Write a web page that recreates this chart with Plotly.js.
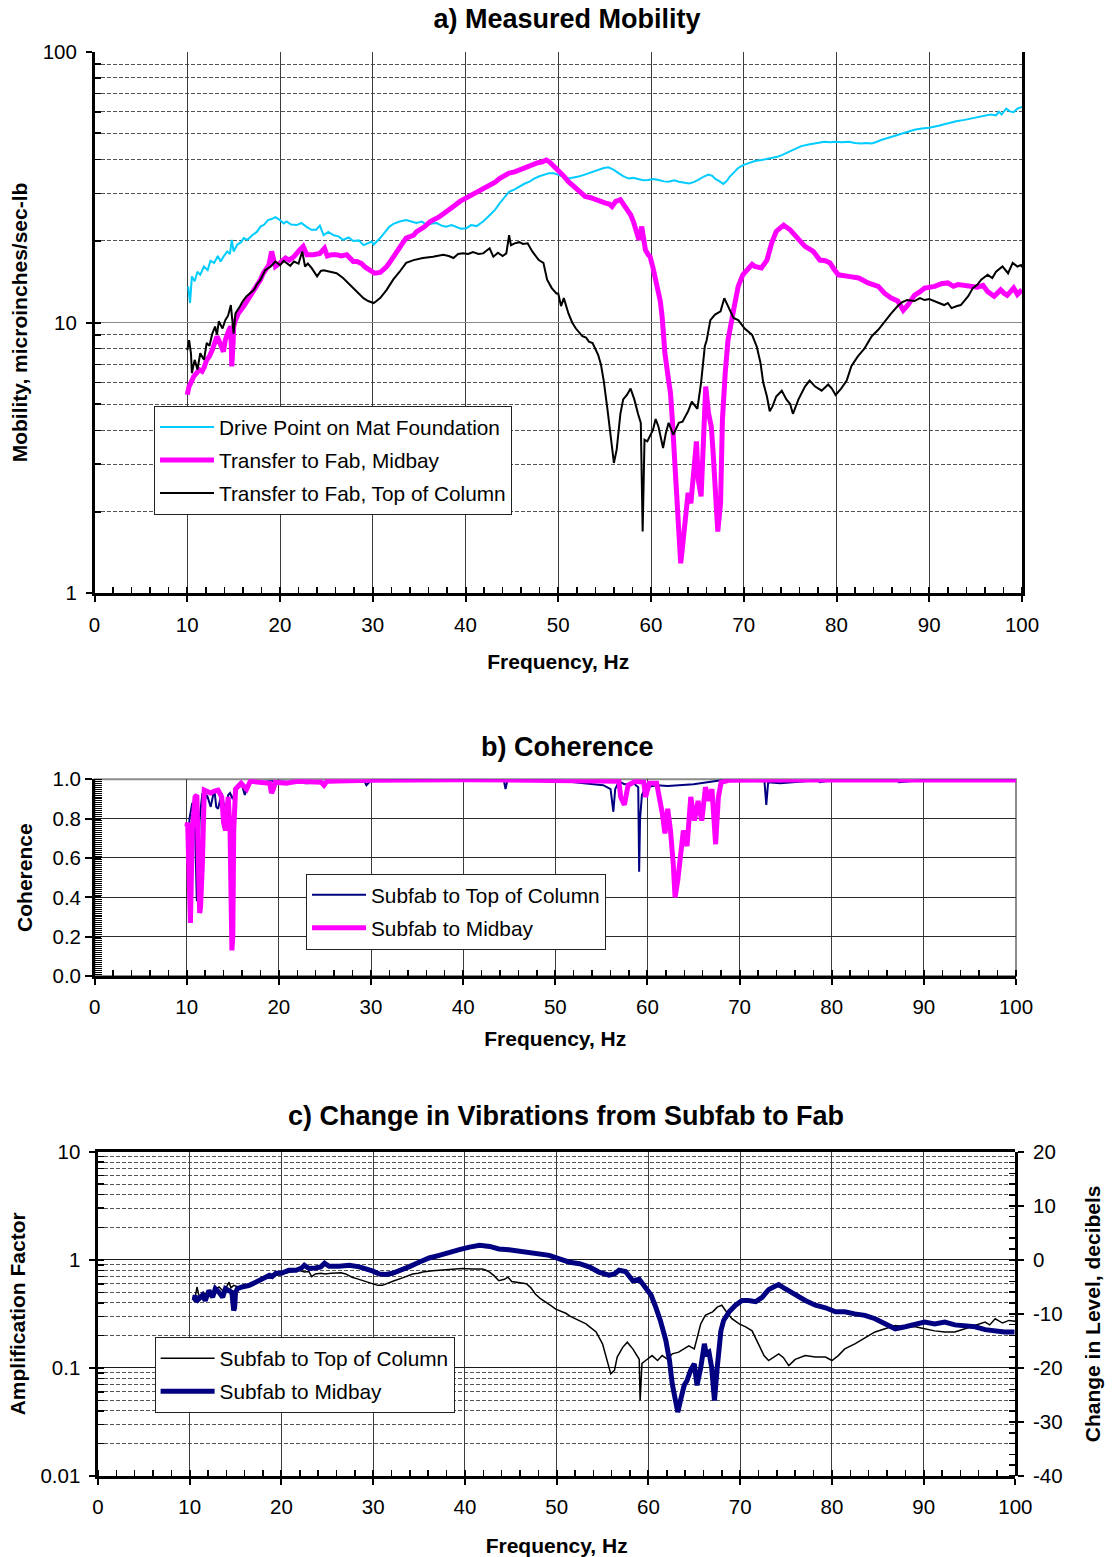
<!DOCTYPE html>
<html>
<head>
<meta charset="utf-8">
<script src="https://cdn.plot.ly/plotly-3.0.1.min.js"></script>
<style>
  html, body { margin: 0; padding: 0; background: #fff; }
  #chart { width: 1112px; height: 1557px; }
</style>
</head>
<body>
<div id="chart"></div>
<script>
// ---------- a) Measured mobility (microinches/sec-lb) ----------
const driveHz = [10.1,10.3,10.5,10.8,11.1,11.4,11.8,12.2,12.5,12.9,
  13.3,13.6,13.9,14.3,14.6,14.8,15.0,15.4,15.8,16.1,
  16.5,17.0,17.5,17.9,18.3,18.7,19.1,19.5,20.0,20.4,
  20.7,21.2,21.8,22.3,22.9,23.4,23.9,24.3,24.7,25.2,
  25.8,26.3,26.8,27.4,27.9,28.5,29.0,29.5,29.9,30.1,
  30.5,30.8,31.3,31.8,32.3,32.9,33.6,34.2,34.7,35.3,
  35.8,36.4,36.9,37.4,37.9,38.5,39.0,39.5,40.1,40.6,
  41.2,41.9,42.6,43.2,43.7,44.2,44.7,45.3,45.8,46.4,
  46.9,47.4,47.9,48.5,49.0,49.5,50.0,50.5,51.1,51.6,
  52.2,52.7,53.3,53.8,54.4,54.9,55.4,56.0,56.5,57.0,
  57.6,58.1,58.7,59.2,59.7,60.3,60.8,61.4,61.9,62.5,
  63.0,63.6,64.1,64.6,65.1,65.7,66.2,66.6,66.9,67.4,
  67.8,68.2,68.5,69.0,69.4,70.0,70.5,71.2,71.9,72.5,
  73.0,73.6,74.1,74.7,75.2,75.7,76.2,77.0,77.7,78.2,
  78.7,79.3,79.9,80.6,81.3,82.0,82.7,83.2,83.8,84.3,
  84.8,85.7,86.6,87.5,88.4,89.2,90.0,91.0,92.0,92.9,
  93.8,94.5,95.3,96.0,96.6,97.2,97.5,97.8,98.3,98.7,
  99.1,99.5,100.0];
const driveMob = [13.6,11.8,14.8,14.2,15.4,15.0,16.1,15.6,16.9,16.6,
  17.6,16.8,17.5,18.3,17.9,20.2,18.3,19.4,19.8,20.5,
  20.2,21.0,21.6,22.6,23.0,23.9,24.1,24.5,23.9,23.2,
  23.6,23.0,22.9,23.3,22.5,22.0,22.0,22.8,21.0,21.6,
  21.0,20.8,20.2,20.6,20.0,20.1,19.3,19.6,19.9,19.4,
  20.0,20.5,21.5,22.6,23.2,23.6,23.9,23.5,23.3,23.6,
  22.9,23.2,23.3,22.8,22.6,22.9,22.5,22.2,22.3,22.9,
  22.7,23.6,24.9,26.1,27.6,29.0,30.4,31.0,31.8,32.6,
  33.1,34.0,34.6,35.2,35.6,35.6,35.2,34.6,34.0,34.2,
  34.6,35.0,35.6,36.2,36.6,37.2,37.4,36.6,35.6,34.7,
  34.0,34.2,33.8,33.5,33.6,33.9,33.6,33.2,33.1,33.5,
  33.1,32.9,32.6,33.0,33.6,34.6,35.2,34.8,34.0,33.2,
  32.5,33.4,34.6,36.0,37.2,38.2,38.8,39.5,39.8,40.1,
  40.4,40.9,41.5,42.5,43.3,44.1,44.8,45.4,45.8,46.2,
  46.5,46.3,46.5,46.3,46.5,46.0,45.8,46.0,45.8,46.4,
  47.2,48.2,49.3,50.4,51.5,52.0,52.4,53.3,54.5,55.4,
  56.0,56.6,57.1,57.8,58.6,58.2,60.0,58.6,61.6,60.2,
  59.8,61.6,62.5];

const midbayHz = [10.0,10.2,10.5,10.7,11.0,11.3,11.6,11.8,12.1,12.4,
  12.7,13.0,13.2,13.4,13.6,13.9,14.1,14.3,14.5,14.7,
  14.8,14.95,15.0,15.2,15.5,16.1,16.8,17.5,17.9,18.2,
  18.5,18.8,19.1,19.3,19.5,20.0,20.6,21.0,21.5,22.1,
  22.5,22.9,23.6,24.3,24.8,25.1,25.6,26.1,26.6,27.2,
  27.6,27.9,28.3,28.8,29.2,29.7,30.2,30.8,31.1,31.5,
  31.8,32.2,32.5,32.9,33.2,33.6,34.0,34.4,34.7,35.1,
  35.6,36.2,36.7,37.2,37.7,38.3,38.8,39.4,39.9,40.4,
  41.0,41.5,42.1,42.6,43.2,43.7,44.2,44.7,45.3,45.8,
  46.4,46.9,47.4,47.8,48.3,48.7,49.0,49.2,49.6,50.0,
  50.5,51.1,51.6,52.2,52.6,52.9,53.5,54.0,54.6,55.1,
  55.5,55.8,56.2,56.7,57.0,57.4,57.8,58.1,58.4,58.7,
  59.0,59.2,59.4,59.7,59.9,60.2,60.5,60.8,61.0,61.2,
  61.5,61.9,62.1,62.3,62.6,62.9,63.2,63.4,63.7,64.0,
  64.3,64.7,64.9,65.1,65.4,65.6,65.9,66.2,66.5,66.7,
  67.0,67.2,67.5,67.7,68.0,68.3,68.9,69.4,69.9,70.5,
  70.9,71.2,71.9,72.5,73.0,73.5,74.3,75.0,75.7,76.2,
  76.6,77.5,78.2,78.8,79.3,79.7,80.2,81.3,82.4,83.4,
  84.5,85.2,85.9,86.6,87.2,87.7,88.4,89.0,89.5,90.6,
  91.3,92.0,92.6,93.1,94.1,95.2,95.8,96.3,97.0,97.7,
  98.1,98.4,99.1,99.5,99.8,100.0];
const midbayMob = [5.41,5.81,6.1,6.33,6.5,6.69,6.6,6.8,7.28,7.5,
  7.93,8.5,8.88,8.6,8.15,7.8,8.6,9.1,9.4,9.66,
  6.88,8.5,9.66,10.2,10.8,11.5,12.5,13.6,14.4,15.2,
  15.8,16.3,18.3,17.0,16.1,16.6,17.3,17.0,17.5,18.5,
  19.1,17.8,17.8,18.0,18.8,17.6,17.8,17.8,17.6,17.8,
  17.3,16.8,16.8,16.5,16.0,15.6,15.2,15.3,15.6,16.1,
  16.6,17.5,18.2,19.1,19.6,20.5,20.7,21.0,21.6,22.0,
  22.6,23.6,24.0,24.6,25.3,26.1,27.0,28.0,28.6,29.2,
  30.0,30.9,31.5,32.2,33.0,34.1,34.8,35.6,36.0,36.6,
  37.2,38.2,38.4,38.9,39.2,39.8,39.3,38.7,37.5,36.6,
  35.0,33.1,32.0,30.9,30.0,29.2,28.9,28.4,28.1,27.6,
  27.4,26.8,28.0,28.4,27.4,26.1,25.0,23.6,22.0,20.2,
  22.6,20.0,18.5,17.8,17.5,16.0,14.4,13.2,12.0,10.5,
  7.7,6.1,5.5,4.37,2.86,1.67,1.29,1.49,1.87,2.35,
  2.15,3.30,3.64,2.62,2.28,3.3,5.8,4.62,4.13,3.3,
  1.98,1.69,2.15,4.37,6.5,8.6,11.1,13.6,15.0,15.9,
  16.4,16.1,15.9,17.0,19.6,21.7,22.9,22.0,20.8,19.8,
  19.1,18.3,17.0,16.9,16.6,15.8,15.0,14.8,14.6,14.0,
  13.6,12.8,12.3,12.0,11.1,11.6,12.6,13.0,13.4,13.6,
  13.9,14.0,13.6,13.8,13.6,13.5,13.7,13.0,12.5,13.2,
  12.8,12.6,13.4,12.7,13.0,13.2];

const columnHz = [10.0,10.2,10.4,10.5,10.8,11.1,11.4,11.8,12.1,12.4,
  12.7,13.0,13.2,13.4,13.8,14.1,14.4,14.7,15.0,15.2,
  15.7,16.0,16.4,16.8,17.2,17.5,17.9,18.4,19.0,19.5,
  20.0,20.4,20.7,21.1,21.5,22.0,22.4,22.7,23.0,23.4,
  24.0,24.4,24.7,25.4,26.1,26.8,27.5,28.3,29.0,29.5,
  30.1,30.4,30.8,31.5,32.2,32.9,33.6,34.4,35.4,36.5,
  37.6,38.2,38.7,39.2,39.7,40.3,40.8,41.4,41.9,42.6,
  43.0,43.5,44.0,44.4,44.7,44.9,45.3,45.8,46.2,46.7,
  47.2,47.9,48.4,48.8,49.3,49.8,50.0,50.3,50.6,51.1,
  51.5,51.9,52.3,52.6,53.0,53.3,53.7,54.0,54.3,54.6,
  54.9,55.3,55.6,56.0,56.3,56.7,57.0,57.4,57.8,58.2,
  58.6,58.9,59.1,59.3,59.6,59.9,60.2,60.5,60.8,61.3,
  61.6,61.9,62.4,63.0,63.4,63.7,64.0,64.4,65.0,65.4,
  65.8,66.0,66.4,66.9,67.5,67.9,68.4,68.9,69.4,70.1,
  70.9,71.4,71.8,72.1,72.5,72.8,73.1,73.5,74.1,74.6,
  75.0,75.3,75.9,76.6,77.1,77.7,78.4,79.1,79.5,79.9,
  80.5,81.1,81.6,82.3,83.0,83.8,84.5,85.2,85.9,86.6,
  87.1,87.6,88.4,89.0,89.5,90.0,90.6,91.1,91.6,92.0,
  92.4,93.0,93.4,94.2,94.7,95.2,95.6,96.3,96.8,97.2,
  97.9,98.5,99.0,99.5,99.9,100.0];
const columnMob = [7.9,8.6,7.7,6.5,7.28,6.7,7.7,7.28,8.4,8.2,
  9.1,9.66,9.0,10.1,9.5,10.2,10.6,11.6,9.1,10.8,
  11.5,12.0,12.5,12.8,13.2,13.8,14.4,15.6,16.1,16.8,
  16.3,16.9,16.6,16.2,16.8,16.5,18.3,16.1,16.5,15.9,
  14.8,15.5,15.6,15.4,15.2,14.6,13.8,13.0,12.3,12.0,
  11.8,12.0,12.3,13.2,14.4,15.4,16.6,17.0,17.3,17.5,
  17.8,17.6,17.3,17.9,18.0,17.9,18.2,17.9,18.0,18.8,
  17.5,18.1,17.6,18.0,21.0,19.3,19.6,19.8,19.5,19.6,
  18.3,17.0,16.6,14.4,13.4,12.8,12.8,11.5,12.3,10.8,
  10.0,9.5,9.2,8.9,8.8,8.5,8.4,8.0,7.6,7.0,
  6.1,4.8,4.0,3.03,3.39,4.6,5.2,5.4,5.7,5.2,
  4.6,4.26,1.69,3.69,3.64,3.8,4.0,4.4,4.13,3.44,
  3.9,4.26,3.85,4.26,4.3,4.5,4.7,5.1,4.8,6.0,
  8.15,8.6,10.2,10.7,11.0,12.3,11.3,10.4,10.2,9.5,
  9.0,8.15,7.1,6.0,5.33,4.7,4.9,5.33,5.6,5.2,
  5.0,4.6,5.2,5.8,6.1,5.8,5.6,5.9,5.7,5.4,
  5.7,6.1,6.9,7.5,8.0,8.9,9.4,10.1,10.8,11.5,
  11.9,12.1,12.0,12.3,12.1,12.2,12.0,11.8,11.6,11.8,
  11.3,11.5,11.6,12.5,13.4,13.8,14.4,15.0,14.6,15.4,
  16.1,15.2,16.6,16.1,16.3,16.0];

// ---------- b) Coherence ----------
const cohColumnHz = [10.0,10.2,10.3,10.6,10.9,11.1,11.3,11.4,11.7,12.0,
  12.2,12.6,13.0,13.2,13.4,13.8,14.0,14.2,14.5,14.7,
  15.0,15.3,16.0,16.3,16.5,17.0,18.0,19.0,20.0,23.0,
  25.0,29.3,29.5,30.0,35.0,40.0,44.4,44.6,44.8,50.0,
  53.6,55.2,56.0,56.3,56.5,56.9,57.5,58.5,59.0,59.1,
  59.2,59.4,59.8,61.0,62.2,63.5,65.0,66.5,68.0,72.7,
  72.9,73.1,74.4,78.5,78.7,80.0,87.1,87.3,90.0,100.0];
const cohColumn = [0.70,0.66,0.80,0.88,0.75,0.38,0.60,0.80,0.93,0.90,
  0.92,0.86,0.95,0.86,0.85,0.93,0.88,0.84,0.92,0.93,
  0.90,0.95,0.97,0.92,0.95,0.99,0.985,0.99,0.99,0.98,
  0.985,0.99,0.97,0.995,0.998,0.997,0.997,0.95,0.995,0.995,
  0.98,0.97,0.95,0.835,0.95,0.99,0.975,0.98,0.96,0.53,
  0.80,0.92,0.96,0.97,0.966,0.97,0.975,0.985,0.995,0.99,
  0.87,0.985,0.98,0.995,0.985,0.995,0.995,0.985,0.997,0.997];

const cohMidbayHz = [10.0,10.1,10.2,10.3,10.4,10.5,10.6,10.8,10.9,11.1,
  11.2,11.3,11.4,11.5,11.7,11.9,12.2,12.6,13.0,13.4,
  13.8,14.0,14.2,14.4,14.5,14.7,14.85,14.9,15.0,15.1,
  15.3,15.9,16.5,16.9,18.4,19.0,19.2,19.4,19.6,20.8,
  22.0,24.6,24.9,25.2,30.0,35.0,40.0,45.0,50.0,55.0,
  56.9,57.1,57.5,57.9,58.7,59.6,59.8,60.2,61.0,61.6,
  61.9,62.2,62.5,62.8,63.0,63.3,63.5,63.9,64.3,64.7,
  65.1,65.5,65.9,66.3,66.7,67.0,67.4,67.7,68.0,68.8,
  75.0,80.0,90.0,100.0];
const cohMidbay = [0.76,0.78,0.60,0.285,0.27,0.50,0.74,0.85,0.91,0.92,
  0.60,0.33,0.32,0.35,0.57,0.945,0.94,0.93,0.94,0.945,
  0.91,0.78,0.74,0.85,0.91,0.74,0.30,0.13,0.20,0.74,
  0.95,0.98,0.95,0.99,0.985,0.98,0.93,0.95,0.985,0.98,
  0.99,0.985,0.97,0.99,0.995,0.998,0.998,0.997,0.996,0.995,
  0.99,0.91,0.87,0.97,0.99,0.985,0.91,0.98,0.98,0.83,
  0.725,0.85,0.74,0.57,0.40,0.49,0.57,0.74,0.66,0.91,
  0.79,0.89,0.79,0.96,0.89,0.95,0.67,0.91,0.985,0.995,
  0.997,0.996,0.997,0.997];

// ---------- c) Amplification factor, subfab to fab ----------
const ampColumnHz = [10.3,10.5,10.7,10.8,11.0,11.2,11.5,11.7,12.1,12.5,
  12.9,13.2,13.6,13.9,14.3,14.5,14.8,15.3,15.7,16.2,
  16.8,17.3,17.9,18.5,19.0,19.5,20.0,20.4,20.8,21.4,
  21.9,22.5,23.0,23.3,23.7,24.3,24.8,25.4,25.9,26.5,
  27.0,27.7,28.2,28.7,29.2,29.6,30.1,30.5,31.0,31.4,
  31.9,32.3,33.2,34.3,34.9,35.4,36.5,37.6,38.7,39.7,
  40.8,41.9,42.3,42.7,43.2,43.7,44.3,44.7,45.1,45.6,
  46.2,46.7,47.2,47.7,48.2,48.8,49.3,49.9,50.4,51.0,
  51.5,52.1,52.5,53.2,53.6,54.3,55.0,55.5,55.9,56.3,
  56.6,57.2,57.7,58.3,58.8,59.0,59.1,59.2,59.3,59.7,
  60.4,61.0,61.5,62.1,62.6,63.3,63.9,64.4,65.0,65.3,
  65.7,66.2,67.0,67.5,68.0,68.4,69.1,69.9,70.6,71.3,
  72.0,72.6,73.1,73.7,74.2,74.7,75.3,76.0,77.1,78.2,
  79.3,80.0,80.7,81.4,82.5,83.6,84.7,85.8,86.9,88.0,
  89.1,90.1,91.2,92.3,93.4,94.5,95.6,96.7,97.2,97.8,
  98.6,99.3,100.0];
const ampColumn = [0.45,0.42,0.50,0.56,0.47,0.45,0.50,0.48,0.52,0.50,
  0.54,0.56,0.52,0.54,0.62,0.55,0.58,0.56,0.57,0.59,
  0.61,0.62,0.65,0.68,0.72,0.72,0.74,0.75,0.77,0.78,
  0.80,0.77,0.78,0.70,0.74,0.75,0.74,0.75,0.75,0.76,
  0.74,0.69,0.67,0.65,0.63,0.62,0.60,0.58,0.58,0.60,
  0.62,0.64,0.68,0.74,0.75,0.77,0.79,0.80,0.81,0.83,
  0.82,0.82,0.80,0.77,0.71,0.64,0.66,0.69,0.63,0.62,
  0.61,0.60,0.55,0.48,0.44,0.41,0.38,0.35,0.335,0.32,
  0.30,0.285,0.275,0.255,0.24,0.215,0.167,0.117,0.088,0.095,
  0.126,0.155,0.173,0.15,0.126,0.12,0.05,0.09,0.11,0.117,
  0.13,0.117,0.13,0.12,0.135,0.14,0.15,0.16,0.15,0.19,
  0.255,0.306,0.33,0.365,0.38,0.34,0.285,0.255,0.24,0.22,
  0.167,0.13,0.117,0.126,0.135,0.125,0.105,0.12,0.13,0.126,
  0.126,0.117,0.13,0.15,0.167,0.19,0.215,0.23,0.247,0.24,
  0.24,0.23,0.22,0.215,0.215,0.23,0.247,0.265,0.25,0.285,
  0.26,0.275,0.27];

const ampMidbayHz = [10.5,10.6,10.7,11.0,11.4,11.7,12.1,12.5,12.8,13.2,
  13.6,13.9,14.3,14.6,14.8,14.9,15.0,15.2,15.7,16.5,
  17.2,17.9,18.7,19.0,19.4,20.0,20.8,21.6,22.2,22.5,
  23.0,23.7,24.3,24.7,25.2,26.3,27.4,28.5,29.2,29.9,
  30.7,31.4,32.1,32.8,33.9,35.0,36.1,37.2,38.3,39.4,
  40.5,41.6,42.7,43.7,44.8,45.9,47.0,48.1,49.2,50.3,
  51.4,52.5,53.6,54.6,55.7,56.3,56.8,57.5,58.3,59.0,
  59.7,60.3,60.8,61.3,61.9,62.3,62.6,63.0,63.2,63.5,
  63.9,64.2,64.6,65.0,65.3,65.7,66.1,66.3,66.6,66.9,
  67.2,67.5,67.9,68.2,68.8,69.5,70.2,70.9,71.7,72.4,
  73.1,73.8,74.2,74.9,76.0,77.1,78.2,79.3,80.4,81.4,
  82.5,83.6,84.7,85.8,86.9,88.0,89.1,90.1,91.2,92.3,
  93.4,94.5,95.6,96.7,97.8,98.8,99.9];
const ampMidbay = [0.42,0.47,0.41,0.44,0.47,0.42,0.52,0.45,0.54,0.50,
  0.45,0.54,0.52,0.50,0.34,0.36,0.50,0.54,0.56,0.58,
  0.62,0.67,0.72,0.70,0.75,0.75,0.80,0.80,0.84,0.89,
  0.83,0.84,0.86,0.93,0.87,0.87,0.89,0.86,0.83,0.79,
  0.74,0.73,0.75,0.80,0.86,0.95,1.04,1.10,1.18,1.24,
  1.31,1.36,1.33,1.26,1.24,1.20,1.18,1.15,1.10,1.02,
  0.95,0.92,0.855,0.77,0.72,0.74,0.80,0.78,0.64,0.66,
  0.54,0.47,0.365,0.275,0.18,0.117,0.071,0.050,0.039,0.05,
  0.069,0.076,0.095,0.109,0.069,0.10,0.167,0.135,0.14,0.10,
  0.050,0.10,0.22,0.275,0.33,0.38,0.42,0.42,0.41,0.45,
  0.53,0.57,0.59,0.54,0.47,0.42,0.38,0.36,0.33,0.33,
  0.316,0.306,0.285,0.255,0.23,0.24,0.255,0.265,0.255,0.265,
  0.25,0.245,0.24,0.226,0.22,0.215,0.215];

// ---------- tick labels ----------
const freqTicks = [0,10,20,30,40,50,60,70,80,90,100];
const mobilityTicks = [1, 10, 100];
const mobilityTickText = ['1', '10', '100'];
const coherenceTicks = [0, 0.2, 0.4, 0.6, 0.8, 1.0];
const coherenceTickText = ['0.0', '0.2', '0.4', '0.6', '0.8', '1.0'];
const ampTicks = [0.01, 0.1, 1, 10];
const ampTickText = ['0.01', '0.1', '1', '10'];
const dbTicks = [-40, -30, -20, -10, 0, 10, 20];
const dbTickText = ['-40', '-30', '-20', '-10', '0', '10', '20'];

// empty series: gives the tick-only axes a subplot without drawing anything
const noValues = [null];

// ---------- page geometry ----------
const W = 1112, H = 1557;
const FONT = 'Liberation Sans, Arial, Helvetica, sans-serif';
const px = v => v / W;          // page x pixel -> paper fraction
const py = v => 1 - v / H;      // page y pixel -> paper fraction

const domA = { x: [px(94.5), px(1022)],  y: [py(593.3), py(51.7)] };
const domB = { x: [px(94.6), px(1016)],  y: [py(976),   py(779.3)] };
const domC = { x: [px(97.9), px(1015.4)], y: [py(1476), py(1151.7)] };

// minor positions on log axes (2..9 within each decade)
function logMinors(decades) {
  const out = [];
  decades.forEach(d => { for (let k = 2; k <= 9; k++) out.push(+(k * d).toPrecision(3)); });
  return out;
}

const tickFont = { family: FONT, size: 20.5, color: '#000' };
const axisTitleFont = { family: FONT, size: 21, color: '#000', weight: 'bold' };
const panelTitleFont = { family: FONT, size: 27, color: '#000', weight: 'bold' };
const legendFont = { family: FONT, size: 20.8, color: '#000' };

function freqAxis(domain, anchor, labelStandoff, titleStandoff) {
  return {
    domain: domain, anchor: anchor, range: [0, 100],
    tickmode: 'array', tickvals: freqTicks,
    ticks: 'outside', ticklen: 6, tickwidth: 2, tickcolor: '#000',
    ticklabelstandoff: labelStandoff,
    showline: true, linewidth: 2.5, linecolor: '#000',
    showgrid: true, gridcolor: '#3c3c3c', gridwidth: 1,
    zeroline: false,
    minor: { tickmode: 'linear', tick0: 0, dtick: 2, ticks: 'inside', ticklen: 6,
             tickwidth: 1.5, tickcolor: '#000', showgrid: false },
    tickfont: tickFont,
    title: { text: 'Frequency, Hz', font: axisTitleFont, standoff: titleStandoff },
    fixedrange: true
  };
}

// bare axis used only to carry tick marks (inner half of the crossing major ticks)
function tickAxis(extra) {
  return Object.assign({
    ticks: 'inside', ticklen: 6, tickwidth: 2, tickcolor: '#000',
    showticklabels: false, showgrid: false, zeroline: false, showline: false,
    fixedrange: true
  }, extra);
}

const layout = {
  width: W, height: H,
  margin: { l: 0, r: 0, t: 0, b: 0, pad: 0 },
  paper_bgcolor: '#fff', plot_bgcolor: 'rgba(0,0,0,0)',
  font: { family: FONT, size: 20, color: '#000' },
  hovermode: false,
  showlegend: true,
  title: {
    text: 'a) Measured Mobility',
    font: panelTitleFont,
    x: px(567), xanchor: 'center', xref: 'paper',
    y: py(19), yanchor: 'middle', yref: 'container'
  },

  // ----- a) mobility -----
  xaxis: freqAxis(domA.x, 'y', 6, 19),
  yaxis: {
    domain: domA.y, anchor: 'x', type: 'log', range: [0, 2],
    tickmode: 'array', tickvals: mobilityTicks, ticktext: mobilityTickText,
    ticks: 'outside', ticklen: 6, tickwidth: 2, tickcolor: '#000',
    ticklabelstandoff: 5,
    showline: true, linewidth: 2.5, linecolor: '#000', mirror: true,
    showgrid: true, gridcolor: '#8a8a8a', gridwidth: 1.5,
    zeroline: false,
    minor: { tickmode: 'array', tickvals: logMinors([1, 10]), ticks: 'inside', ticklen: 6,
             tickwidth: 1.5, tickcolor: '#000',
             showgrid: true, gridcolor: '#555', gridwidth: 1, griddash: '4px,2px' },
    tickfont: tickFont,
    title: { text: 'Mobility, microinches/sec-lb', font: axisTitleFont, standoff: 10 },
    fixedrange: true
  },

  // ----- b) coherence -----
  xaxis2: freqAxis(domB.x, 'y2', 5, 14),
  yaxis2: {
    domain: domB.y, anchor: 'x2', range: [0, 1],
    tickmode: 'array', tickvals: coherenceTicks, ticktext: coherenceTickText,
    ticks: 'outside', ticklen: 7, tickwidth: 2, tickcolor: '#000',
    ticklabelstandoff: 0,
    showline: true, linewidth: 2.5, linecolor: '#000',
    showgrid: true, gridcolor: '#2a2a2a', gridwidth: 1,
    zeroline: false,
    minor: { tickmode: 'linear', tick0: 0, dtick: 0.01, ticks: 'inside', ticklen: 7,
             tickwidth: 1, tickcolor: '#000', showgrid: false },
    tickfont: tickFont,
    title: { text: 'Coherence', font: axisTitleFont, standoff: 14 },
    fixedrange: true
  },

  // ----- c) change in vibrations -----
  xaxis3: Object.assign(freqAxis(domC.x, 'y3', 5, 22), { mirror: true }),
  yaxis3: {
    domain: domC.y, anchor: 'x3', type: 'log', range: [-2, 1],
    tickmode: 'array', tickvals: ampTicks, ticktext: ampTickText,
    ticks: 'outside', ticklen: 6, tickwidth: 2, tickcolor: '#000',
    ticklabelstandoff: 5,
    showline: true, linewidth: 2.5, linecolor: '#000',
    showgrid: true, gridcolor: '#1a1a1a', gridwidth: 1,
    zeroline: false,
    minor: { tickmode: 'array', tickvals: logMinors([0.01, 0.1, 1]), ticks: 'inside', ticklen: 6,
             tickwidth: 1.5, tickcolor: '#000',
             showgrid: true, gridcolor: '#555', gridwidth: 1, griddash: '4px,2px' },
    tickfont: tickFont,
    title: { text: 'Amplification Factor', font: axisTitleFont, standoff: 9 },
    fixedrange: true
  },
  // right-hand decibel scale: -40..20 dB spans the same height as 0.01..10
  xaxis8: tickAxis({ domain: domC.x, anchor: 'y4', range: [0, 100], ticks: '' }),
  yaxis4: {
    domain: domC.y, anchor: 'x8', side: 'right', range: [-40, 20],
    tickmode: 'array', tickvals: dbTicks, ticktext: dbTickText,
    ticks: 'outside', ticklen: 6, tickwidth: 2, tickcolor: '#000',
    ticklabelstandoff: 5,
    showline: true, linewidth: 2.5, linecolor: '#000',
    showgrid: false, zeroline: false,
    minor: { tickmode: 'linear', tick0: 0, dtick: 2, ticks: 'inside', ticklen: 6,
             tickwidth: 1.5, tickcolor: '#000', showgrid: false },
    tickfont: tickFont,
    title: { text: 'Change in Level, decibels', font: axisTitleFont, standoff: 24 },
    fixedrange: true
  },
  yaxis9: tickAxis({ domain: domC.y, anchor: 'x8', side: 'right', range: [-40, 20],
                     tickmode: 'array', tickvals: dbTicks }),

  // inner halves of the crossing major ticks on the other axes
  xaxis5: tickAxis({ domain: domA.x, anchor: 'y5', range: [0, 100], tickmode: 'array', tickvals: freqTicks }),
  yaxis5: tickAxis({ domain: domA.y, anchor: 'x5', type: 'log', range: [0, 2], tickmode: 'array', tickvals: mobilityTicks }),
  xaxis6: tickAxis({ domain: domB.x, anchor: 'y6', range: [0, 100], tickmode: 'array', tickvals: freqTicks }),
  yaxis6: tickAxis({ domain: domB.y, anchor: 'x6', range: [0, 1], tickmode: 'array', tickvals: coherenceTicks }),
  xaxis7: tickAxis({ domain: domC.x, anchor: 'y7', range: [0, 100], tickmode: 'array', tickvals: freqTicks }),
  yaxis7: tickAxis({ domain: domC.y, anchor: 'x7', type: 'log', range: [-2, 1], tickmode: 'array', tickvals: ampTicks }),

  legend: {
    x: px(154), y: py(406), xanchor: 'left', yanchor: 'top',
    bgcolor: '#fff', bordercolor: '#222', borderwidth: 1,
    font: legendFont, itemwidth: 54, traceorder: 'grouped', tracegroupgap: 3
  },
  legend2: {
    x: px(306), y: py(873.7), xanchor: 'left', yanchor: 'top',
    bgcolor: '#fff', bordercolor: '#222', borderwidth: 1,
    font: legendFont, itemwidth: 54, traceorder: 'grouped', tracegroupgap: 3
  },
  legend3: {
    x: px(154.6), y: py(1337.3), xanchor: 'left', yanchor: 'top',
    bgcolor: '#fff', bordercolor: '#222', borderwidth: 1,
    font: legendFont, itemwidth: 54, traceorder: 'grouped', tracegroupgap: 3
  },

  shapes: [
    // grey frame of the coherence plot area
    { type: 'rect', xref: 'x2 domain', yref: 'y2 domain', x0: 0, x1: 1, y0: 0, y1: 1,
      line: { color: '#8c8c8c', width: 2 }, layer: 'below' }
  ],

  annotations: [
    { text: 'b) Coherence', xref: 'paper', yref: 'paper', x: px(567), y: py(747),
      xanchor: 'center', yanchor: 'middle', showarrow: false, font: panelTitleFont },
    { text: 'c) Change in Vibrations from Subfab to Fab', xref: 'paper', yref: 'paper',
      x: px(566), y: py(1116), xanchor: 'center', yanchor: 'middle', showarrow: false,
      font: panelTitleFont }
  ]
};

const traces = [
  { x: driveHz, y: driveMob, xaxis: 'x', yaxis: 'y', mode: 'lines',
    name: 'Drive Point on Mat Foundation', legend: 'legend', legendgroup: 'a1',
    line: { color: '#00CCFF', width: 2 } },
  { x: midbayHz, y: midbayMob, xaxis: 'x', yaxis: 'y', mode: 'lines',
    name: 'Transfer to Fab, Midbay', legend: 'legend', legendgroup: 'a2',
    line: { color: '#FF00FF', width: 5 } },
  { x: columnHz, y: columnMob, xaxis: 'x', yaxis: 'y', mode: 'lines',
    name: 'Transfer to Fab, Top of Column', legend: 'legend', legendgroup: 'a3',
    line: { color: '#000000', width: 2 } },

  { x: cohColumnHz, y: cohColumn, xaxis: 'x2', yaxis: 'y2', mode: 'lines',
    name: 'Subfab to Top of Column', legend: 'legend2', legendgroup: 'b1',
    line: { color: '#000080', width: 2 } },
  { x: cohMidbayHz, y: cohMidbay, xaxis: 'x2', yaxis: 'y2', mode: 'lines',
    name: 'Subfab to Midbay', legend: 'legend2', legendgroup: 'b2',
    line: { color: '#FF00FF', width: 5 } },

  { x: ampColumnHz, y: ampColumn, xaxis: 'x3', yaxis: 'y3', mode: 'lines',
    name: 'Subfab to Top of Column', legend: 'legend3', legendgroup: 'c1',
    line: { color: '#000000', width: 1.5 } },
  { x: ampMidbayHz, y: ampMidbay, xaxis: 'x3', yaxis: 'y3', mode: 'lines',
    name: 'Subfab to Midbay', legend: 'legend3', legendgroup: 'c2',
    line: { color: '#000080', width: 5 } }
];

// tick-only subplots (decibel scale, inner tick halves) — no marks drawn
[['x8', 'y4'], ['x8', 'y9'], ['x5', 'y5'], ['x6', 'y6'], ['x7', 'y7']].forEach(p => {
  traces.push({ x: noValues, y: noValues, xaxis: p[0], yaxis: p[1], mode: 'lines',
                showlegend: false, hoverinfo: 'skip' });
});

Plotly.newPlot('chart', traces, layout, { staticPlot: true, displayModeBar: false });
</script>
</body>
</html>
